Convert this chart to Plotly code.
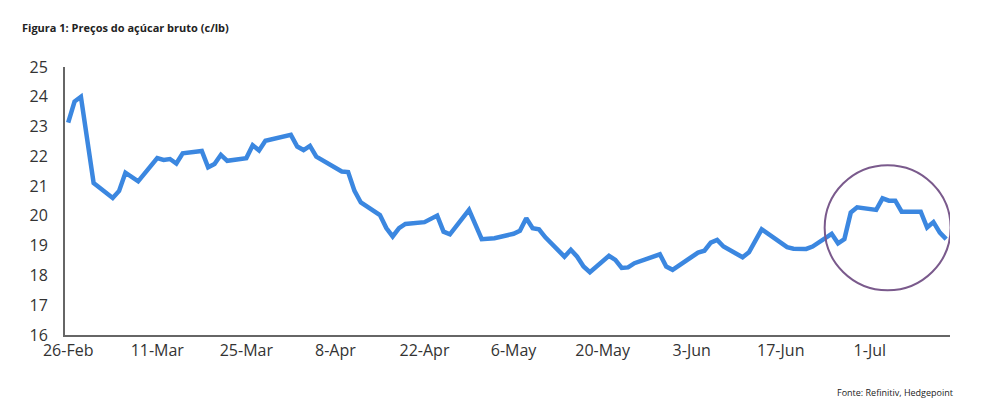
import plotly.graph_objects as go
import pandas as pd

start_date = "2024-02-26"
day_offsets = [0,1,2,4,7,8,9,11,14,15,16,17,18,21,22,23,24,25,28,29,30,31,35,36,37,38,39,43,44,45,46,49,50,51,52,53,56,58,59,60,63,65,67,70,71,72,73,74,75,78,79,80,81,82,85,86,87,88,89,93,94,95,99,100,101,102,103,106,107,109,113,114,116,117,120,121,122,123,124,127,128,129,130,131,134,135,136,137,138]
prices = [23.13,23.84,24.0,21.1,20.6,20.84,21.45,21.16,21.94,21.88,21.91,21.76,22.1,22.18,21.63,21.74,22.05,21.85,21.94,22.37,22.2,22.52,22.72,22.33,22.21,22.35,21.99,21.49,21.47,20.84,20.45,20.03,19.59,19.31,19.59,19.73,19.79,20.01,19.47,19.38,20.2,19.22,19.25,19.4,19.5,19.92,19.59,19.55,19.28,18.63,18.86,18.63,18.3,18.11,18.66,18.52,18.25,18.27,18.41,18.71,18.3,18.19,18.77,18.83,19.1,19.19,18.97,18.61,18.78,19.55,18.95,18.9,18.89,18.97,19.4,19.08,19.22,20.11,20.29,20.2,20.59,20.51,20.51,20.14,20.14,19.61,19.79,19.44,19.22]
tick_offsets = [0,14,28,42,56,70,84,98,112,126]

t0 = pd.Timestamp(start_date)
dates = [t0 + pd.Timedelta(days=d) for d in day_offsets]
tickvals = [t0 + pd.Timedelta(days=d) for d in tick_offsets]
ticktext = [f"{t.day}-{t.strftime('%b')}" for t in tickvals]

fig = go.Figure(go.Scatter(x=dates, y=prices, mode="lines",
                           line=dict(color="#3b87e0", width=4.5), hoverinfo="skip"))
fig.add_shape(type="circle", xref="x", yref="y",
              x0=t0 + pd.Timedelta(days=118.9), x1=t0 + pd.Timedelta(days=138.7),
              y0=17.5, y1=21.7, line=dict(color="#7a5a8c", width=2))
fig.update_layout(
    width=988, height=397, plot_bgcolor="white", paper_bgcolor="white",
    margin=dict(l=57, r=46, t=59, b=70), showlegend=False,
    font=dict(family="Open Sans", color="#333"),
    annotations=[
        dict(text="<b>Figura 1: Preços do açúcar bruto (c/lb)</b>", xref="paper", yref="paper",
             x=-0.051, y=1.146, xanchor="left", yanchor="middle", showarrow=False,
             font=dict(size=11, color="#222")),
        dict(text="Fonte: Refinitiv, Hedgepoint", xref="paper", yref="paper",
             x=1.006, y=-0.216, xanchor="right", yanchor="middle", showarrow=False,
             font=dict(size=9, color="#222")),
    ],
)
fig.update_xaxes(range=[t0 - pd.Timedelta(hours=12), t0 + pd.Timedelta(days=138.6)],
                 tickvals=tickvals, ticktext=ticktext, showgrid=False,
                 showline=True, linecolor="#666", linewidth=2, ticks="",
                 tickfont=dict(size=16, color="#333"))
fig.update_yaxes(range=[16, 25], dtick=1, showgrid=False, showline=True,
                 linecolor="#666", linewidth=2, ticks="", ticklabelstandoff=12,
                 tickfont=dict(size=16, color="#333"), zeroline=False)
fig.write_html("out.html")
